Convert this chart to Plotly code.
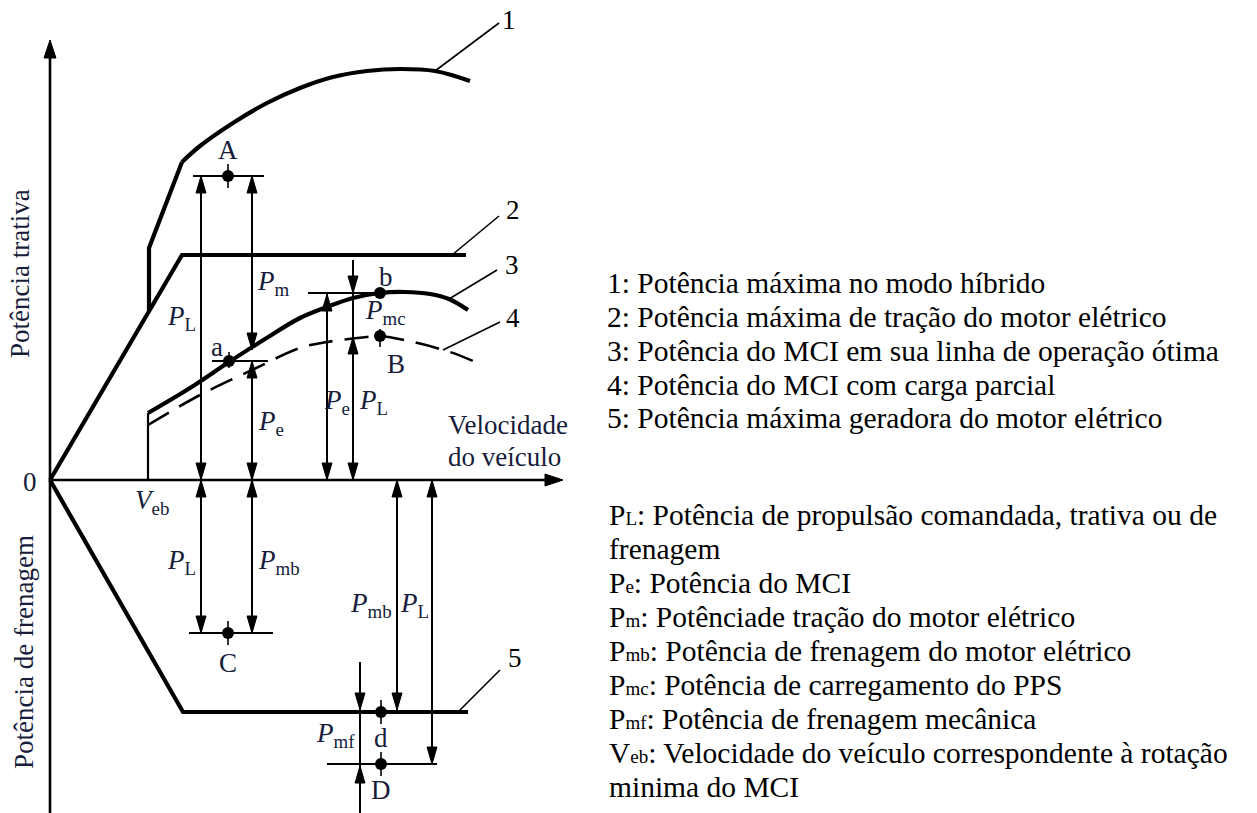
import plotly.graph_objects as go

# ---------------- diagram data (speed X, power Y, arbitrary units) ----------------
# axes extents
y_axis_bottom, y_axis_top = -333, 440
x_axis_end = 513

# curve 1: max power in hybrid mode (polyline part + smooth arc)
c1_line_x = [99, 99, 132]
c1_line_y = [170, 232, 318]
c1_arc_x = [132, 150, 183, 217, 250, 283, 317, 350, 385, 420]
c1_arc_y = [318, 334, 357, 377, 392, 403, 409, 411, 409, 399]

# curve 2: max traction power of electric motor
c2_x = [0, 132, 416]
c2_y = [0, 225, 225]

# V_eb vertical line
veb_x = [98, 98]
veb_y = [0, 67]

# curve 3: ICE power on optimal operating line
c3_x = [98, 140, 179, 215, 250, 277, 303, 330, 355, 380, 399, 418]
c3_y = [67, 92, 118, 141, 162, 173, 182, 187, 188, 186, 181, 170]

# curve 4: ICE power with partial load (dashed)
c4_x = [98, 150, 202, 250, 277, 317, 330, 363, 400, 423]
c4_y = [55, 85, 110, 132, 138, 143, 144, 138, 128, 119]

# curve 5: max generating (braking) power of electric motor
c5_x = [0, 133, 418]
c5_y = [0, -232, -232]

# leader lines for curve numbers: (x0, y0, x1, y1), label, label position
leaders = [
    (385, 409, 449, 457, "1", 459, 460),
    (402, 225, 449, 264, "2", 463, 270),
    (399, 181, 447, 210, "3", 462, 215),
    (393, 130, 450, 158, "4", 463, 162),
    (408, -232, 450, -190, "5", 465, -178),
]

# operating points: name, x, y, label x, label y
points_name = ["A", "a", "b", "B", "C", "d", "D"]
points_x = [178, 179, 330, 330, 178, 331, 331]
points_y = [304, 119, 187, 144, -153, -232, -284]
points_lx = [178, 167, 336, 346, 178, 331, 331]
points_ly = [330, 133, 203, 116, -183, -258, -310]

# horizontal reference lines at operating points: (x0, x1, y)
ref_lines = [(143, 214, 304), (162, 218, 119), (258, 330, 187),
             (139, 223, -153), (277, 387, -284)]
# small vertical ticks through points: (x, y0, y1)
ticks = [(178, 292, 316), (179, 112, 128), (330, 133, 151),
         (178, -165, -141), (331, -244, -220), (331, -296, -272)]

# power arrows: x, y_start, y_end, list of (tip_y, direction)
arrows = [
    (151, 304, 0, [(304, 1), (0, -1)]),
    (202, 304, 130, [(304, 1), (130, -1)]),
    (202, 119, 0, [(119, 1), (0, -1)]),
    (277, 186, 0, [(186, 1), (0, -1)]),
    (303, 220, 0, [(187, -1), (143, 1), (0, -1)]),
    (151, 0, -153, [(0, 1), (-153, -1)]),
    (202, 0, -153, [(0, 1), (-153, -1)]),
    (347, 0, -230, [(0, 1), (-230, -1)]),
    (382, 0, -284, [(0, 1), (-284, -1)]),
    (310, -182, -333, [(-230, -1), (-286, 1)]),
]

# power symbols in the diagram: (main, sub, x, y, anchor)
power_labels = [
    ("P", "L", 148, 162, "right"),
    ("P", "m", 205, 197, "left"),
    ("P", "e", 206, 57, "left"),
    ("P", "mc", 313, 168, "left"),
    ("P", "e", 302, 78, "right"),
    ("P", "L", 307, 78, "left"),
    ("P", "L", 148, -82, "right"),
    ("P", "mb", 206, -82, "left"),
    ("P", "mb", 344, -125, "right"),
    ("P", "L", 348, -125, "left"),
    ("P", "mf", 307, -255, "right"),
]

legend_curves = [
    "1: Potência máxima no modo híbrido",
    "2: Potência máxima de tração do motor elétrico",
    "3: Potência do MCI em sua linha de operação ótima",
    "4: Potência do MCI com carga parcial",
    "5: Potência máxima geradora do motor elétrico",
]
legend_curves_y = [197, 163, 129, 95, 62]

legend_symbols = [
    ("P", "L", ": Potência de propulsão comandada, trativa ou de"),
    ("", "", "frenagem"),
    ("P", "e", ": Potência do MCI"),
    ("P", "m", ": Potênciade tração do motor elétrico"),
    ("P", "mb", ": Potência de frenagem do motor elétrico"),
    ("P", "mc", ": Potência de carregamento do PPS"),
    ("P", "mf", ": Potência de frenagem mecânica"),
    ("V", "eb", ": Velocidade do veículo correspondente à rotação"),
    ("", "", "minima do MCI"),
]
legend_symbols_y = [-35, -69, -103, -137, -171, -205, -239, -273, -307]

# ---------------- drawing ----------------
FONT = "Liberation Serif, Times New Roman, Tinos, DejaVu Serif, serif"
INK = "black"
LBL = "#161c3a"

fig = go.Figure()


def line(x, y, w, dash=None, shape="linear"):
    fig.add_trace(go.Scatter(x=x, y=y, mode="lines",
                             line=dict(color=INK, width=w, dash=dash, shape=shape,
                                       smoothing=1.0 if shape == "spline" else None),
                             hoverinfo="skip", showlegend=False))


# axes
line([0, 0], [y_axis_bottom, y_axis_top - 14], 2.6)
line([0, x_axis_end - 14], [0, 0], 2.6)

# curves
line(c1_line_x, c1_line_y, 4.2)
line(c1_arc_x, c1_arc_y, 4.2, shape="spline")
line(c2_x, c2_y, 4.2)
line(veb_x, veb_y, 2.2)
line(c3_x, c3_y, 4.2, shape="spline")
line(c4_x, c4_y, 2.6, dash="24px,12px", shape="spline")
line(c5_x, c5_y, 4.2)

# leaders
for x0, y0, x1, y1, *_ in leaders:
    line([x0, x1], [y0, y1], 1.6)

# reference lines and ticks
for x0, x1, yy in ref_lines:
    line([x0, x1], [yy, yy], 1.8)
for xx, y0, y1 in ticks:
    line([xx, xx], [y0, y1], 1.6)

# arrows shafts
for xx, ys, ye, heads in arrows:
    line([xx, xx], [ys, ye], 2.0)

# arrowheads (filled triangles)
hx, hy = [], []
HL, HW = 17, 5
for xx, ys, ye, heads in arrows:
    for tip, d in heads:
        base = tip - d * HL
        hx += [xx, xx - HW, xx + HW, xx, None]
        hy += [tip, base, base, tip, None]
# axis arrowheads
hx += [0, -6, 6, 0, None]
hy += [y_axis_top, y_axis_top - 18, y_axis_top - 18, y_axis_top, None]
hx += [x_axis_end, x_axis_end - 18, x_axis_end - 18, x_axis_end, None]
hy += [0, 6, -6, 0, None]
fig.add_trace(go.Scatter(x=hx, y=hy, mode="lines", fill="toself", fillcolor=INK,
                         line=dict(color=INK, width=1), hoverinfo="skip", showlegend=False))

# points
fig.add_trace(go.Scatter(x=points_x, y=points_y, mode="markers",
                         marker=dict(size=12, color=INK), hoverinfo="skip", showlegend=False))

ann = []


def text(t, x, y, size=27, color=LBL, xanchor="center", yanchor="middle", angle=0):
    ann.append(dict(text=t, x=x, y=y, xref="x", yref="y", showarrow=False,
                    font=dict(family=FONT, size=size, color=color),
                    xanchor=xanchor, yanchor=yanchor, textangle=angle))


for n, lx, ly in zip(points_name, points_lx, points_ly):
    text(n, lx, ly)
for *_, lab, lx, ly in leaders:
    text(lab, lx, ly, color=INK)
for m, s, x, y, anc in power_labels:
    text(f"<i>{m}</i><sub>{s}</sub>", x, y, xanchor=anc)

text("0", -20, -2)
text("<i>V</i><sub>eb</sub>", 102, -22)
text("Velocidade", 396, 55, xanchor="left")
text("do veículo", 396, 23, xanchor="left")
text("Potência trativa", -30, 206, angle=-90, size=27)
text("Potência de frenagem", -26, -172, angle=-90, size=27)

LEG = 29.5
for t, yy in zip(legend_curves, legend_curves_y):
    text(t, 555, yy, color=INK, xanchor="left", size=LEG)
for (m, s, rest), yy in zip(legend_symbols, legend_symbols_y):
    small = f"{m}<span style='font-size:19px'>{s}</span>" if m else ""
    text(small + rest, 557, yy, color=INK, xanchor="left", size=LEG)

fig.update_layout(
    width=1257, height=813,
    margin=dict(l=0, r=0, t=0, b=0),
    paper_bgcolor="white", plot_bgcolor="white",
    xaxis=dict(range=[-50, 1207], visible=False, fixedrange=True),
    yaxis=dict(range=[-333, 480], visible=False, fixedrange=True),
    annotations=ann,
    showlegend=False,
)

fig.write_html("out.html", config={"displayModeBar": False},
               post_script="document.body.style.margin='0px';document.body.style.overflow='hidden';")
